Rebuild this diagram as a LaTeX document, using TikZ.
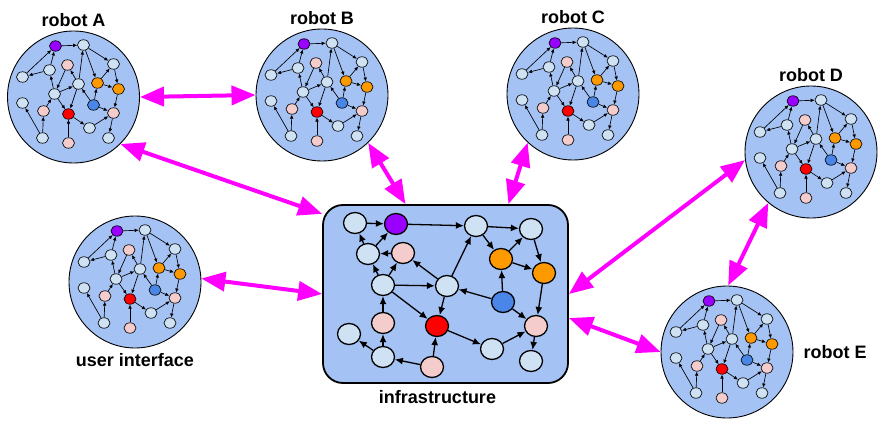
\documentclass[tikz,border=0pt]{standalone}
\usepackage{fontspec}
\setmainfont{Liberation Sans}
\usetikzlibrary{arrows.meta, shapes.geometric, positioning}

\definecolor{bubblefill}{HTML}{A4C2F4}
\definecolor{nodefill}{HTML}{CFE2F3}
\definecolor{pinkfill}{HTML}{F4CCCC}
\definecolor{orangefill}{HTML}{FF9900}
\definecolor{purplefill}{HTML}{9900FF}
\definecolor{bluefill}{HTML}{4A86E8}
\definecolor{linkcolor}{HTML}{FF00FF}

\tikzset{
	bubble/.style={circle, draw, line width=0.9pt, fill=bubblefill, minimum size=132pt, inner sep=0pt},
	infrabox/.style={draw, line width=1.8pt, fill=bubblefill, rounded corners=20pt, minimum width=245pt, minimum height=178pt, inner sep=0pt},
	lbl/.style={font=\fontsize{18}{20}\selectfont\bfseries, inner sep=0pt},
	sn/.style={ellipse, draw, line width=0.65pt, minimum width=12pt, minimum height=10.5pt, inner sep=0pt, fill=nodefill},
	bn/.style={ellipse, draw, line width=1.3pt, minimum width=23pt, minimum height=21pt, inner sep=0pt, fill=nodefill},
	slink/.style={-{Latex[length=4pt, width=3.6pt]}, line width=0.65pt},
	blink/.style={-{Latex[length=8pt, width=7pt]}, line width=1.3pt},
	link/.style={{Triangle[length=24pt, width=19pt]}-{Triangle[length=24pt, width=19pt]}, line width=4pt, draw=linkcolor, fill=linkcolor},
	robotnet/.pic={
		\foreach \n/\x/\y/\c in {p/-18/-51/purplefill, n1/10/-52/nodefill, n2/40/-33/nodefill,
			n3/-24/-27/nodefill, n4/-51/-20/nodefill, k1/-6/-32/pinkfill, n5/5/-13/nodefill,
			o1/24/-14/orangefill, o2/45/-8/orangefill, n6/-19/-3/nodefill, n7/-51/6/nodefill,
			k2/-30/14/pinkfill, r/-5/17/red, b/20/8/bluefill, k3/40/16/pinkfill,
			n8/16/31/nodefill, n9/-31/41/nodefill, n10/35/41/nodefill, k4/-5/46/pinkfill}
			\node[sn, fill=\c] (-\n) at (\x,\y) {};
		\foreach \s/\t in {p/n1, n4/p, n3/p, n3/n4, n6/n3, k1/n6, n5/k1, n6/n5, n6/r, n5/r,
			n5/n1, b/n5, n1/o1, n1/n2, o1/n2, n2/o2, o1/o2, b/o1, b/k3, o2/k3, k3/n10,
			n8/k3, r/n8, k4/r, n9/k2, n9/n7, k2/n6}
			\draw[slink] (-\s) -- (-\t);
	}
}

\begin{document}
\begin{tikzpicture}[x=1pt, y=-1pt]
	\useasboundingbox (0,0) rectangle (887,428);

	% robots and user interface
	\node[bubble] (robA) at (73.5,97) {};
	\node[bubble] (robB) at (322,95) {};
	\node[bubble] (robC) at (573,94) {};
	\node[bubble] (robD) at (811,152) {};
	\node[bubble] (robE) at (727,352) {};
	\node[bubble] (robU) at (135,282) {};
	\foreach \r in {A, B, C, D, E, U}
		\pic (g\r) at (rob\r) {robotnet};

	\node[lbl, above=4pt of robA] (labA) {robot A};
	\node[lbl, above=4pt of robB] (labB) {robot B};
	\node[lbl, above=4pt of robC] (labC) {robot C};
	\node[lbl, above=4pt of robD] (labD) {robot D};
	\node[lbl, right=10pt of robE] (labE) {robot E};
	\node[lbl, below=5pt of robU] (labU) {user interface};

	% infrastructure
	\node[infrabox] (infra) at (445.5,294) {};
	\node[lbl, below=6pt of infra.south, xshift=-8pt] (labI) {infrastructure};

	\foreach \n/\x/\y/\c in {a1/355/223/nodefill, p/396/224/purplefill, a2/476/226/nodefill,
		a3/531/229/nodefill, a4/368/254/nodefill, k1/403/253/pinkfill, o1/501/259/orangefill,
		o2/544/273/orangefill, a5/383/285/nodefill, a6/447/286/nodefill, b/503/302/bluefill,
		k2/383/323/pinkfill, r/437/326/red, k3/536/326/pinkfill, a7/349/334/nodefill,
		a8/492/349/nodefill, a9/383/357/nodefill, k4/432/367/pinkfill, a10/531/361/nodefill}
		\node[bn, fill=\c] (i\n) at (\x,\y) {};
	\foreach \s/\t in {a1/p, p/a2, a4/a1, a4/p, k1/a4, a5/a4, a5/k1, a5/a6, a6/k1, a6/a2,
		a6/r, a5/r, k2/a5, a9/k2, a9/a7, k4/a9, k4/r, r/a8, a8/k3, k3/a10, b/a6, b/o1,
		b/k3, o1/o2, o1/a3, a2/o1, a2/a3, a3/o2, o2/k3}
		\draw[blink] (i\s) -- (i\t);

	% links
	\draw[link] (robA.0) -- (robB.180);
	\draw[link] (robA.-45) -- (infra.147.5);
	\draw[link] (robB.-46) -- (infra.114);
	\draw[link] (robC.-133) -- (infra.55);
	\draw[link] (robU.3) -- (infra.west);
	\draw[link] (robD.187) -- (infra.east);
	\draw[link] (robD.-130) -- (robE.89);
	\draw[link] (infra.-11.5) -- (robE.180);
\end{tikzpicture}
\end{document}
